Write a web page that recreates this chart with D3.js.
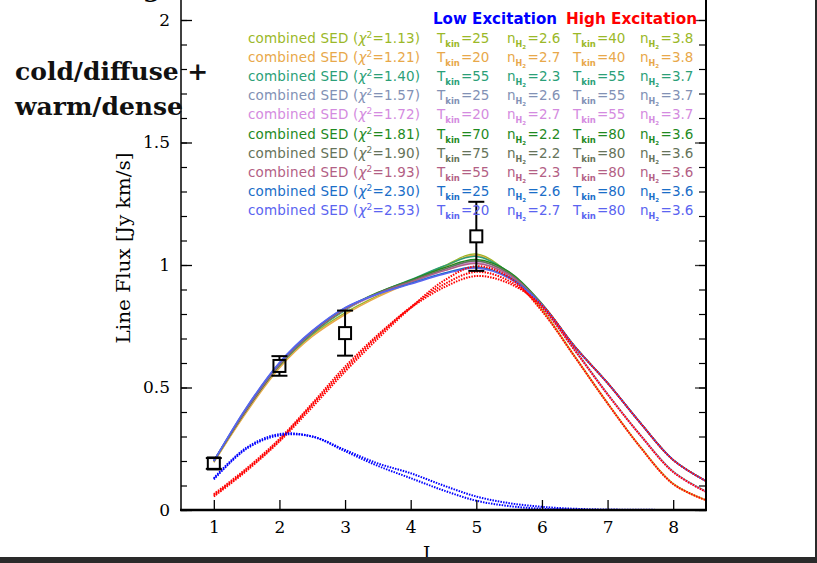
<!DOCTYPE html>
<html><head><meta charset="utf-8">
<script src="https://cdn.jsdelivr.net/npm/d3@7"></script>
<style>html,body{margin:0;padding:0;background:#fff;}svg{display:block;}</style>
</head><body>
<svg id="chart" width="817" height="563"></svg>
<script>
// ---------- data ----------
const J = [1, 1.5, 2, 2.5, 3, 3.5, 4, 4.5, 5, 5.5, 6, 6.5, 7, 7.5, 8, 8.5];

const chi2Labels = ["1.13", "1.21", "1.40", "1.57", "1.72", "1.81", "1.90", "1.93", "2.30", "2.53"];
const lowTkin  = [25, 20, 55, 25, 20, 70, 75, 55, 25, 20];
const lowNH2   = ["2.6", "2.7", "2.3", "2.6", "2.7", "2.2", "2.2", "2.3", "2.6", "2.7"];
const highTkin = [40, 40, 55, 55, 55, 80, 80, 80, 80, 80];
const highNH2  = ["3.8", "3.8", "3.7", "3.7", "3.7", "3.6", "3.6", "3.6", "3.6", "3.6"];

const sed113 = [0.195, 0.405, 0.585, 0.715, 0.805, 0.875, 0.935, 0.995, 1.045, 0.965, 0.82, 0.628, 0.437, 0.258, 0.108, 0.041];
const sed121 = [0.195, 0.40, 0.58, 0.708, 0.798, 0.87, 0.93, 0.99, 1.04, 0.96, 0.815, 0.625, 0.435, 0.256, 0.106, 0.04];
const sed140 = [0.2, 0.41, 0.59, 0.72, 0.815, 0.885, 0.94, 0.995, 1.035, 0.97, 0.835, 0.655, 0.474, 0.306, 0.157, 0.076];
const sed157 = [0.2, 0.412, 0.593, 0.723, 0.818, 0.882, 0.932, 0.982, 1.018, 0.962, 0.832, 0.653, 0.473, 0.305, 0.156, 0.075];
const sed172 = [0.2, 0.413, 0.594, 0.724, 0.818, 0.88, 0.928, 0.976, 1.01, 0.955, 0.83, 0.652, 0.472, 0.305, 0.155, 0.074];
const sed181 = [0.2, 0.41, 0.592, 0.724, 0.82, 0.888, 0.938, 0.988, 1.022, 0.972, 0.842, 0.668, 0.519, 0.356, 0.205, 0.119];
const sed190 = [0.2, 0.41, 0.592, 0.724, 0.82, 0.886, 0.935, 0.982, 1.016, 0.966, 0.84, 0.667, 0.518, 0.355, 0.204, 0.118];
const sed193 = [0.2, 0.413, 0.595, 0.726, 0.821, 0.883, 0.93, 0.976, 1.006, 0.96, 0.839, 0.667, 0.518, 0.355, 0.204, 0.118];
const sed230 = [0.2, 0.418, 0.6, 0.73, 0.825, 0.882, 0.925, 0.966, 0.992, 0.95, 0.838, 0.666, 0.518, 0.355, 0.204, 0.118];
const sed253 = [0.2, 0.42, 0.602, 0.732, 0.826, 0.882, 0.922, 0.962, 0.988, 0.946, 0.837, 0.666, 0.518, 0.355, 0.204, 0.118];
const sedSeries = [sed113, sed121, sed140, sed157, sed172, sed181, sed190, sed193, sed230, sed253];

// high-excitation components (red dotted)
const highT40 = [0.055, 0.16, 0.28, 0.42, 0.565, 0.70, 0.825, 0.935, 0.995, 0.95, 0.812, 0.625, 0.435, 0.256, 0.106, 0.04];
const highT55 = [0.06, 0.165, 0.285, 0.43, 0.575, 0.71, 0.828, 0.92, 0.972, 0.935, 0.826, 0.652, 0.472, 0.305, 0.155, 0.074];
const highT80 = [0.065, 0.17, 0.29, 0.435, 0.585, 0.715, 0.825, 0.908, 0.955, 0.925, 0.835, 0.666, 0.518, 0.355, 0.204, 0.118];
// low-excitation components (blue dotted)
const lowA = [0.125, 0.25, 0.305, 0.30, 0.245, 0.19, 0.15, 0.10, 0.055, 0.028, 0.013, 0.005, 0.002, 0.001, 0, 0];
const lowB = [0.13, 0.255, 0.31, 0.30, 0.24, 0.18, 0.13, 0.08, 0.038, 0.016, 0.005, 0.001, 0, 0, 0, 0];

// observations
const obsJ = [1, 2, 3, 5];
const obsFlux = [0.19, 0.588, 0.722, 1.117];
const obsErr = [0.022, 0.04, 0.092, 0.141];

const xTicks = [1, 2, 3, 4, 5, 6, 7, 8];
const yTicks = [0, 0.5, 1, 1.5, 2];

// ---------- styles ----------
const sedColors = ["#9bb828", "#e8a84a", "#2b9f78", "#8291b5", "#d48be0", "#1f8a1f", "#66735a", "#b35f85", "#1a6ec8", "#5a64f0"];

// ---------- drawing ----------
const svg = d3.select("#chart");
svg.append("rect").attr("width", 817).attr("height", 563).attr("fill", "#fff");

const x = d3.scaleLinear().domain([0.5, 8.5]).range([181, 706]);
const y = d3.scaleLinear().domain([0, 2]).range([510, 20]);

svg.append("defs").append("clipPath").attr("id", "plotclip")
  .append("rect").attr("x", 181).attr("y", 0).attr("width", 525).attr("height", 511);

const line = d3.line().x((d, i) => x(J[i])).y(d => y(Math.max(0, d))).curve(d3.curveCatmullRom.alpha(0.5));

const plot = svg.append("g").attr("clip-path", "url(#plotclip)");
sedSeries.forEach((s, k) => {
  plot.append("path").attr("d", line(s)).attr("fill", "none")
    .attr("stroke", sedColors[k]).attr("stroke-width", 1.5);
});
[highT40, highT55, highT80].forEach(s => {
  plot.append("path").attr("d", line(s)).attr("fill", "none")
    .attr("stroke", "#ff0000").attr("stroke-width", 2).attr("stroke-dasharray", "1.5,1.2");
});
[lowA, lowB].forEach(s => {
  plot.append("path").attr("d", line(s)).attr("fill", "none")
    .attr("stroke", "#0000ff").attr("stroke-width", 2).attr("stroke-dasharray", "1.5,1.2");
});

// axes
const axisFont = "'DejaVu Serif', serif";
const gl = svg.append("g").attr("transform", "translate(181,0)")
  .call(d3.axisLeft(y).tickValues(yTicks).tickSize(-11).tickPadding(11).tickFormat(d3.format("")));
gl.select(".domain").remove();
gl.selectAll("text").attr("font-family", axisFont).attr("font-size", 17).attr("fill", "#000");
gl.selectAll("line").attr("stroke", "#000").attr("stroke-width", 1.3);
const glm = svg.append("g").attr("transform", "translate(181,0)")
  .call(d3.axisLeft(y).tickValues(d3.range(0, 2.05, 0.1)).tickSize(-6).tickFormat(""));
glm.select(".domain").remove();
glm.selectAll("line").attr("stroke", "#000").attr("stroke-width", 1.2);

const gr = svg.append("g").attr("transform", "translate(706,0)")
  .call(d3.axisRight(y).tickValues(yTicks).tickSize(-11).tickFormat(""));
gr.select(".domain").remove();
gr.selectAll("line").attr("stroke", "#333").attr("stroke-width", 1.3);
const grm = svg.append("g").attr("transform", "translate(706,0)")
  .call(d3.axisRight(y).tickValues(d3.range(0, 2.05, 0.1)).tickSize(-7).tickFormat(""));
grm.select(".domain").remove();
grm.selectAll("line").attr("stroke", "#000").attr("stroke-width", 1.2);

const gb = svg.append("g").attr("transform", "translate(0,510)")
  .call(d3.axisBottom(x).tickValues(xTicks).tickSize(-10).tickPadding(11).tickFormat(d3.format("d")));
gb.select(".domain").remove();
gb.selectAll("text").attr("font-family", axisFont).attr("font-size", 17).attr("fill", "#000");
gb.selectAll("line").attr("stroke", "#000").attr("stroke-width", 1.3);

svg.append("line").attr("x1", 181).attr("x2", 181).attr("y1", 0).attr("y2", 511).attr("stroke", "#000").attr("stroke-width", 1.5);
svg.append("line").attr("x1", 706).attr("x2", 706).attr("y1", 0).attr("y2", 511).attr("stroke", "#000").attr("stroke-width", 2);
svg.append("line").attr("x1", 180).attr("x2", 707).attr("y1", 510).attr("y2", 510).attr("stroke", "#000").attr("stroke-width", 2.5);

// observations
const obs = svg.append("g");
obsJ.forEach((j, i) => {
  const cx = x(j), cy = y(obsFlux[i]);
  const y1 = y(obsFlux[i] + obsErr[i]), y2 = y(obsFlux[i] - obsErr[i]);
  obs.append("line").attr("x1", cx).attr("x2", cx).attr("y1", y1).attr("y2", cy - 6).attr("stroke", "#000").attr("stroke-width", 2);
  obs.append("line").attr("x1", cx).attr("x2", cx).attr("y1", cy + 6).attr("y2", y2).attr("stroke", "#000").attr("stroke-width", 2);
  obs.append("line").attr("x1", cx - 8).attr("x2", cx + 8).attr("y1", y1).attr("y2", y1).attr("stroke", "#000").attr("stroke-width", 2);
  obs.append("line").attr("x1", cx - 8).attr("x2", cx + 8).attr("y1", y2).attr("y2", y2).attr("stroke", "#000").attr("stroke-width", 2);
  obs.append("rect").attr("x", cx - 6).attr("y", cy - 6).attr("width", 12).attr("height", 12)
    .attr("fill", "none").attr("stroke", "#000").attr("stroke-width", 2);
});

// axis titles
svg.append("text").attr("transform", "translate(130,248) rotate(-90)").attr("text-anchor", "middle")
  .attr("font-family", axisFont).attr("font-size", 18).attr("fill", "#000")
  .attr("textLength", 191).attr("lengthAdjust", "spacingAndGlyphs")
  .text("Line Flux [Jy km/s]");
const xt = svg.append("text").attr("x", 423).attr("y", 560).attr("font-family", axisFont).attr("font-size", 18).attr("fill", "#000");
xt.append("tspan").text("J");
xt.append("tspan").attr("dy", 5).attr("font-size", 12).text("upper");

// legend
const lf = "'DejaVu Sans', sans-serif";
svg.append("text").attr("x", 433).attr("y", 24).attr("font-family", lf).attr("font-weight", "bold")
  .attr("font-size", 15).attr("fill", "#0000ff").attr("textLength", 124).attr("lengthAdjust", "spacingAndGlyphs").text("Low Excitation");
svg.append("text").attr("x", 566).attr("y", 24).attr("font-family", lf).attr("font-weight", "bold")
  .attr("font-size", 15).attr("fill", "#ff0000").attr("textLength", 131).attr("lengthAdjust", "spacingAndGlyphs").text("High Excitation");

function tkin(g, xx, yy, val, col) {
  const t = g.append("text").attr("x", xx).attr("y", yy).attr("font-family", lf).attr("font-size", 13.5).attr("fill", col);
  t.append("tspan").text("T");
  t.append("tspan").attr("dy", 4).attr("font-size", 8.5).attr("font-weight", "bold").text("kin");
  t.append("tspan").attr("dy", -4).attr("dx", 1).text("=" + val);
}
function nh2(g, xx, yy, val, col) {
  const t = g.append("text").attr("x", xx).attr("y", yy).attr("font-family", lf).attr("font-size", 13.5).attr("fill", col);
  t.append("tspan").text("n");
  t.append("tspan").attr("dy", 4).attr("font-size", 8).attr("font-weight", "bold").text("H");
  t.append("tspan").attr("dy", 2).attr("font-size", 5.5).attr("font-weight", "bold").text("2");
  t.append("tspan").attr("dy", -6).attr("dx", 1.5).text("=" + val);
}
const lg = svg.append("g");
chi2Labels.forEach((c, i) => {
  const yy = 43 + i * 19.1;
  const col = sedColors[i];
  const t = lg.append("text").attr("x", 248).attr("y", yy).attr("font-family", lf).attr("font-size", 13.5)
    .attr("fill", col).attr("textLength", 172).attr("lengthAdjust", "spacing");
  t.append("tspan").text("combined SED (");
  t.append("tspan").attr("font-style", "italic").text("χ");
  t.append("tspan").attr("dy", -5).attr("font-size", 9).text("2");
  t.append("tspan").attr("dy", 5).text("=" + c + ")");
  tkin(lg, 437, yy, lowTkin[i], col);
  nh2(lg, 507, yy, lowNH2[i], col);
  tkin(lg, 573, yy, highTkin[i], col);
  nh2(lg, 640, yy, highNH2[i], col);
});

// slide text
const sf = "'DejaVu Serif', serif";
svg.append("text").attr("x", 143).attr("y", -3).attr("font-family", sf).attr("font-weight", "bold").attr("font-size", 25).attr("fill", "#000").text("g");
svg.append("text").attr("x", 15).attr("y", 80).attr("font-family", sf).attr("font-weight", "bold").attr("font-size", 25).attr("fill", "#111").text("cold/diffuse +");
svg.append("text").attr("x", 15).attr("y", 115).attr("font-family", sf).attr("font-weight", "bold").attr("font-size", 25).attr("fill", "#111").text("warm/dense");

// slide frame
svg.append("rect").attr("x", 0).attr("y", 557).attr("width", 817).attr("height", 6).attr("fill", "#2a2a2a");
svg.append("rect").attr("x", 815).attr("y", 0).attr("width", 2).attr("height", 563).attr("fill", "#2a2a2a");
</script>
</body></html>
